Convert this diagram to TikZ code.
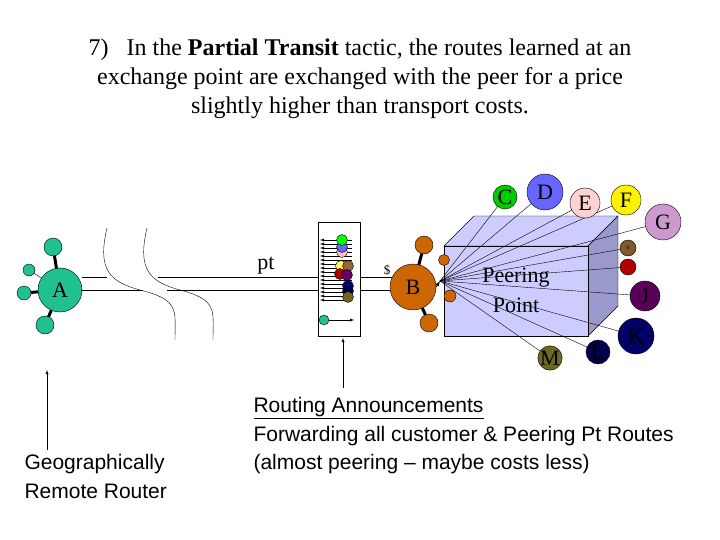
\documentclass[tikz,border=0pt]{standalone}
\usepackage{fontspec}
\setmainfont{Liberation Serif}
\newfontfamily\sansfont{Liberation Sans}
\usepackage{tikz}
\usetikzlibrary{calc}

\definecolor{teal1}{HTML}{20C090}
\definecolor{orng}{HTML}{CC6600}
\definecolor{lav}{HTML}{CCCCFF}
\definecolor{lavdark}{HTML}{9999CC}

\tikzset{
    rtr/.style={circle, draw, inner sep=0pt, minimum size=#1},
    lbl/.style={font=\fontsize{22}{22}\selectfont},
}

\begin{document}
\begin{tikzpicture}[x=1pt, y=-1pt]
    \useasboundingbox (0,0) rectangle (720,540);
    % title
    \node[align=center, font=\fontsize{24}{29}\selectfont] (title) at (360,79)
        {7)\ \ \ In the \textbf{Partial Transit} tactic, the routes learned at an\\
         exchange point are exchanged with the peer for a price\\
         slightly higher than transport costs.};
    % router A
    \draw[line width=3pt](60,290)--(53,247);
    \draw[line width=3pt](60,290)--(24,293);
    \draw[line width=3pt](60,290)--(45,325);
    \draw(60,290)--(29,270);
    \node[rtr=18pt, fill=teal1] (a1) at (53,247) {};
    \node[rtr=12pt, fill=teal1] (a2) at (29,270) {};
    \node[rtr=14pt, fill=teal1] (a3) at (24,293) {};
    \node[rtr=18pt, fill=teal1] (a4) at (45,325) {};
    \node[rtr=44pt, fill=teal1, lbl] (A) at (60,290) {A};
    % links to the column
    \draw(A.east|-0,277)--(107,277);
    \draw(158,277)--(318,277);
    \draw(81,290)--(143,290);
    \draw(167,290)--(318,290);
    \draw(107,228) .. controls (97,270) and (110,282) .. (140,290) .. controls (180,300) and (175,310) .. (175,340);
    \draw(147,228) .. controls (137,270) and (150,282) .. (180,290) .. controls (218,300) and (213,310) .. (213,340);
    \node[lbl] (pt) at (266,266) {pt};
    % route column
    \draw(318,222) rectangle (360,336);
    \foreach \y in {240,244,...,300} \draw[-latex](352,\y)--(320,\y);
    \foreach \p/\c in {{342,252}/pink,{342,247}/blue!60,{342,240}/green,{341,266}/yellow!60,{348,266}/brown!80!black,{340,274}/red!70!black,{347,275}/violet!80!black,{348,286}/blue!50!black,{348,291}/blue!30!black,{348,297}/olive!70!black}
        \node[rtr=11pt, fill=\c] at (\p) {};
    \node[rtr=10pt, fill=teal1] (tc) at (324,320) {};
    \draw[-latex](tc)--(354,320);
    \draw(360,277)--(392,277);
    \draw(360,290)--(390,290);
    \node[font=\fontsize{13}{13}\selectfont] (usd) at (387,270) {\$};
    % router B
    \draw[line width=3pt](413,287)--(424,245);
    \draw[line width=3pt](413,287)--(429,323);
    \node[rtr=18pt, fill=orng] (b1) at (424,245) {};
    \node[rtr=18pt, fill=orng] (b2) at (429,323) {};
    % peering point box
    \draw[fill=lav](444,246)--(474,216)--(618,216)--(588,246)--cycle;
    \draw[fill=lavdark](588,246)--(618,216)--(618,306)--(588,336)--cycle;
    \draw[fill=lav](444,246) rectangle (588,336);
    \node[rtr=11pt, fill=orng] (b3) at (444,260) {};
    \node[rtr=12pt, fill=orng] (b4) at (450,296) {};
    \node[rtr=46pt, fill=orng, lbl] (B) at (413,287) {B};
    \coordinate (hub) at (440,281);
    \node[lbl] (pp1) at (516,278) {Peering};
    \node[lbl] (pp2) at (516,305) {Point};
    % peers
    \foreach \p in {{505,197},{545,192},{585,203},{626,200},{663,222},{628,248},{628,267},{645,296},{636,336},{598,352},{550,358}}
        \draw(hub)--(\p);
    \foreach \n/\p/\s/\c in {C/{505,197}/24/green!80!black, D/{545,192}/36/blue!60, E/{585,203}/30/pink!70, F/{626,200}/30/yellow, G/{663,222}/36/violet!40, J/{645,296}/30/violet!70!black, K/{636,336}/36/blue!40!black, L/{598,352}/24/blue!30!black, M/{550,358}/24/olive!70!black}
        \node[rtr=\s pt, fill=\c, lbl] (\n) at (\p) {\n};
    \node[rtr=16pt, fill=brown!70!black, font=\tiny] (H) at (628,248) {H};
    \node[rtr=16pt, fill=red!70!black, font=\tiny] (I) at (628,267) {I};
    \draw[-latex, thick](B.east)--(hub);
    % notes
    \coordinate (n1) at (47,450);
    \coordinate (n2) at (343,388);
    \draw[-latex](n1)--(47,370);
    \draw[-latex](n2)--(343,338);
    \node[anchor=north west, align=left, font=\sansfont\fontsize{21}{29}\selectfont] (geo) at (21,451)
        {Geographically\\Remote Router};
    \node[anchor=north west, align=left, font=\sansfont\fontsize{21}{28.5}\selectfont] (ann) at (250,394)
        {\underline{Routing Announcements}\\Forwarding all customer \& Peering Pt Routes\\(almost peering – maybe costs less)};
\end{tikzpicture}
\end{document}
